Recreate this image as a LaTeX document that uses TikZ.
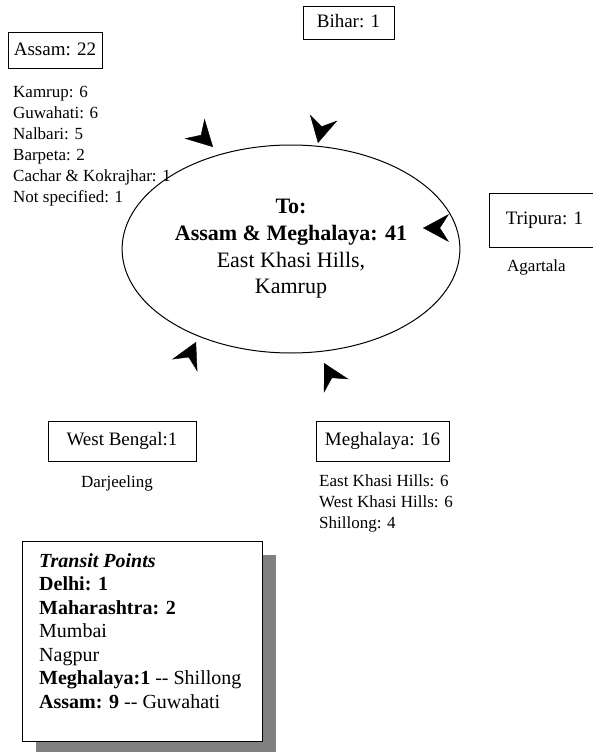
\documentclass[tikz,border=0pt]{standalone}
\usepackage{fontspec}
\setmainfont{Liberation Serif}
\usepackage{xcolor}
\usetikzlibrary{arrows.meta}
\usetikzlibrary{shapes.geometric}
\usetikzlibrary{shadows}
\definecolor{shadowgray}{RGB}{128,128,128}

\begin{document}
\begin{tikzpicture}[x=1pt,y=-1pt,
	statebox/.style={draw, line width=1pt, inner sep=0pt, text height=13pt, text depth=4pt, font=\fontsize{19}{23}\selectfont},
	sublist/.style={anchor=north west, align=left, inner sep=0pt, font=\fontsize{17}{21}\selectfont},
	head/.style={-{Stealth[length=26pt,width=28pt,inset=9pt]}, line width=0.4pt}]

	\useasboundingbox (0,0) rectangle (592,752);

	% destination
	\node [draw, ellipse, line width=1pt, minimum width=262pt, minimum height=208pt, align=center, font=\fontsize{22}{26.7}\selectfont] (dest) at (291,249) {\textbf{To:}\\\textbf{Assam \& Meghalaya: 41}\\East Khasi Hills,\\Kamrup};

	% origins
	\node [statebox, minimum width=94pt, minimum height=36pt] (assam) at (55,51) {Assam: 22};
	\node [sublist] (assamlist) at (13,86) {Kamrup: 6\\Guwahati: 6\\Nalbari: 5\\Barpeta: 2\\Cachar \& Kokrajhar: 1\\Not specified: 1};

	\node [statebox, minimum width=91pt, minimum height=33pt] (bihar) at (348.5,23.5) {Bihar: 1};

	\node [statebox, minimum width=111pt, minimum height=54pt] (tripura) at (544.5,220) {Tripura: 1};
	\node [sublist, anchor=west] (tripuralist) at (507,267) {Agartala};

	\node [statebox, minimum width=148pt, minimum height=40pt] (wbengal) at (122,441) {West Bengal:1};
	\node [sublist, anchor=center] (wbengallist) at (117,483) {Darjeeling};

	\node [statebox, minimum width=133pt, minimum height=40pt] (meghalaya) at (382.5,441) {Meghalaya: 16};
	\node [sublist] (meghalayalist) at (319,474) {East Khasi Hills: 6\\West Khasi Hills: 6\\Shillong: 4};

	% arrow heads round the ellipse
	\coordinate (tipnw) at (213,147);
	\coordinate (tipn) at (318,143);
	\coordinate (tipe) at (423,228);
	\coordinate (tipsw) at (196,342);
	\coordinate (tips) at (324,363);
	\coordinate (fromnw) at (210.9,144.9);
	\coordinate (fromn) at (318.65,140.07);
	\coordinate (frome) at (426,228);
	\coordinate (fromsw) at (194.7,344.7);
	\coordinate (froms) at (325.4,365.6);
	\draw [head] (fromnw) -- (tipnw);
	\draw [head] (fromn) -- (tipn);
	\draw [head] (frome) -- (tipe);
	\draw [head] (fromsw) -- (tipsw);
	\draw [head] (froms) -- (tips);

	% transit
	\node [draw, line width=1pt, fill=white, minimum width=240pt, minimum height=200pt, drop shadow={shadow xshift=14pt, shadow yshift=-14pt, fill=shadowgray, opacity=1}] (transit) at (142,641) {};
	\node [anchor=north west, align=left, inner sep=0pt, font=\fontsize{20}{23.5}\selectfont] (transitlist) at (39,553) {\textbf{\textit{Transit Points}}\\\textbf{Delhi: 1}\\\textbf{Maharashtra: 2}\\Mumbai\\Nagpur\\\textbf{Meghalaya:1} -{}- Shillong\\\textbf{Assam: 9} -{}- Guwahati};
\end{tikzpicture}
\end{document}
